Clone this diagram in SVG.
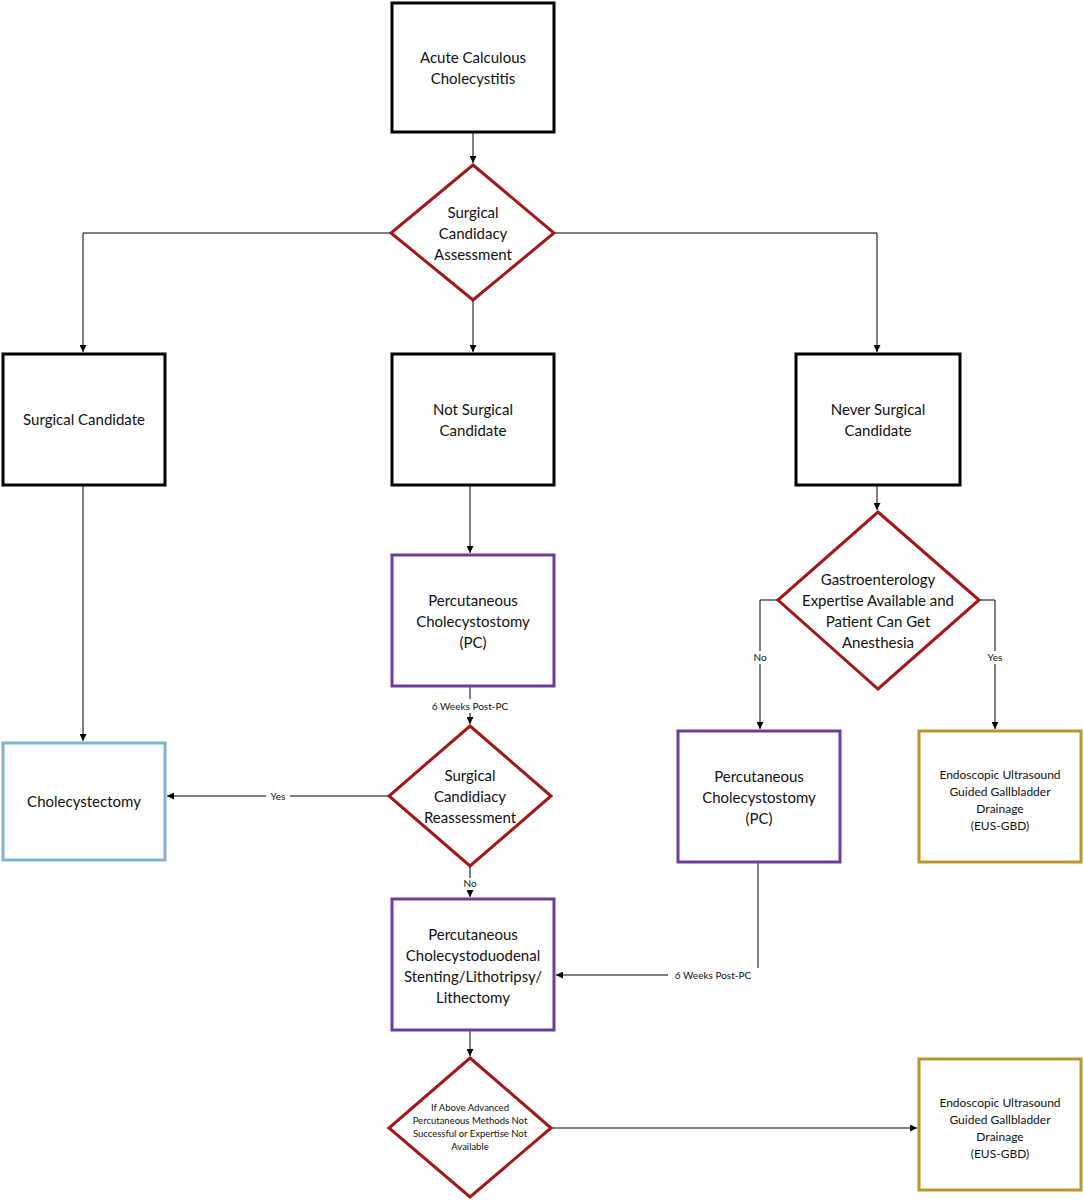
<svg xmlns="http://www.w3.org/2000/svg" width="1084" height="1200" viewBox="0 0 1084 1200">
<style>
text{font-family:Lato,"Open Sans","Liberation Sans",sans-serif;fill:#111;text-anchor:middle}
.t{font-size:15px}.s{font-size:10px}.xs{font-size:9.5px}
.k{fill:#fff;stroke:#000;stroke-width:3}
.p{fill:#fff;stroke:#6a3d9a;stroke-width:3}
.b{fill:#fff;stroke:#7fb2cf;stroke-width:3}
.g{fill:#fff;stroke:#b8962e;stroke-width:3}
.d{fill:#fff;stroke:#a01818;stroke-width:3}
#edges path{fill:none;stroke:#000;stroke-width:1}
</style>
<defs><marker id="a" viewBox="0 0 10 10" refX="10" refY="5" markerWidth="7" markerHeight="7" orient="auto"><path d="M0,0L10,5L0,10z" fill="#000"/></marker></defs>
<g id="edges">
<path d="M473,132V163" marker-end="url(#a)"/>
<path d="M391,233H83V352" marker-end="url(#a)"/>
<path d="M473,300V352" marker-end="url(#a)"/>
<path d="M554,233H877V352" marker-end="url(#a)"/>
<path d="M470,485V553" marker-end="url(#a)"/>
<path d="M877,485V510" marker-end="url(#a)"/>
<path d="M83,485V741" marker-end="url(#a)"/>
<path d="M470,686V724" marker-end="url(#a)"/>
<path d="M389,796H167" marker-end="url(#a)"/>
<path d="M470,866V897" marker-end="url(#a)"/>
<path d="M778,600H760V729" marker-end="url(#a)"/>
<path d="M979,600H995V729" marker-end="url(#a)"/>
<path d="M758,862V975H556" marker-end="url(#a)"/>
<path d="M470,1030V1056" marker-end="url(#a)"/>
<path d="M551,1128H917" marker-end="url(#a)"/>
</g>
<g id="labels">
<rect x="422" y="699" width="96" height="14" fill="#fff"/><text class="s" x="470" y="710">6 Weeks Post-PC</text>
<rect x="266" y="790" width="24" height="13" fill="#fff"/><text class="s" x="278" y="800">Yes</text>
<rect x="462" y="878" width="18" height="12" fill="#fff"/><text class="s" x="470" y="887">No</text>
<rect x="750" y="651" width="20" height="13" fill="#fff"/><text class="s" x="760" y="661">No</text>
<rect x="984" y="651" width="22" height="13" fill="#fff"/><text class="s" x="995" y="661">Yes</text>
<rect x="668" y="968" width="92" height="14" fill="#fff"/><text class="s" x="713" y="979">6 Weeks Post-PC</text>
</g>
<g id="n1"><rect class="k" x="392" y="3" width="162" height="129"/><text class="t" x="473" y="63">Acute Calculous</text><text class="t" x="473" y="84">Cholecystitis</text></g>
<g id="n2"><path class="d" d="M473,165L554,233L473,300L391,233z"/><text class="t" x="473" y="218">Surgical</text><text class="t" x="473" y="239">Candidacy</text><text class="t" x="473" y="260">Assessment</text></g>
<g id="n3"><rect class="k" x="3" y="354" width="162" height="131"/><text class="t" x="84" y="425">Surgical Candidate</text></g>
<g id="n4"><rect class="k" x="392" y="354" width="162" height="131"/><text class="t" x="473" y="415">Not Surgical</text><text class="t" x="473" y="436">Candidate</text></g>
<g id="n5"><rect class="k" x="796" y="354" width="164" height="131"/><text class="t" x="878" y="415">Never Surgical</text><text class="t" x="878" y="436">Candidate</text></g>
<g id="n6"><rect class="p" x="392" y="555" width="162" height="131"/><text class="t" x="473" y="606">Percutaneous</text><text class="t" x="473" y="627">Cholecystostomy</text><text class="t" x="473" y="648">(PC)</text></g>
<g id="n7"><path class="d" d="M470,726L551,796L470,866L389,796z"/><text class="t" x="470" y="781">Surgical</text><text class="t" x="470" y="802">Candidiacy</text><text class="t" x="470" y="823">Reassessment</text></g>
<g id="n8"><rect class="b" x="3" y="743" width="162" height="117"/><text class="t" x="84" y="807">Cholecystectomy</text></g>
<g id="n9"><path class="d" d="M878,512L979,600L878,689L778,600z"/><text class="t" x="878" y="585">Gastroenterology</text><text class="t" x="878" y="606">Expertise Available and</text><text class="t" x="878" y="627">Patient Can Get</text><text class="t" x="878" y="648">Anesthesia</text></g>
<g id="n10"><rect class="p" x="678" y="731" width="162" height="131"/><text class="t" x="759" y="782">Percutaneous</text><text class="t" x="759" y="803">Cholecystostomy</text><text class="t" x="759" y="824">(PC)</text></g>
<g id="n11"><rect class="g" x="919" y="731" width="162" height="131"/><text class="s" x="1000" y="779" style="font-size:12px">Endoscopic Ultrasound</text><text class="s" x="1000" y="796" style="font-size:12px">Guided Gallbladder</text><text class="s" x="1000" y="813" style="font-size:12px">Drainage</text><text class="s" x="1000" y="830" style="font-size:12px">(EUS-GBD)</text></g>
<g id="n12"><rect class="p" x="392" y="899" width="162" height="131"/><text class="t" x="473" y="940">Percutaneous</text><text class="t" x="473" y="961">Cholecystoduodenal</text><text class="t" x="473" y="982">Stenting/Lithotripsy/</text><text class="t" x="473" y="1003">Lithectomy</text></g>
<g id="n13"><path class="d" d="M470,1058L551,1128L470,1197L389,1128z"/><text class="xs" x="470" y="1111">If Above Advanced</text><text class="xs" x="470" y="1124">Percutaneous Methods Not</text><text class="xs" x="470" y="1137">Successful or Expertise Not</text><text class="xs" x="470" y="1150">Available</text></g>
<g id="n14"><rect class="g" x="919" y="1059" width="162" height="131"/><text x="1000" y="1107" style="font-size:12px">Endoscopic Ultrasound</text><text x="1000" y="1124" style="font-size:12px">Guided Gallbladder</text><text x="1000" y="1141" style="font-size:12px">Drainage</text><text x="1000" y="1158" style="font-size:12px">(EUS-GBD)</text></g>
</svg>
